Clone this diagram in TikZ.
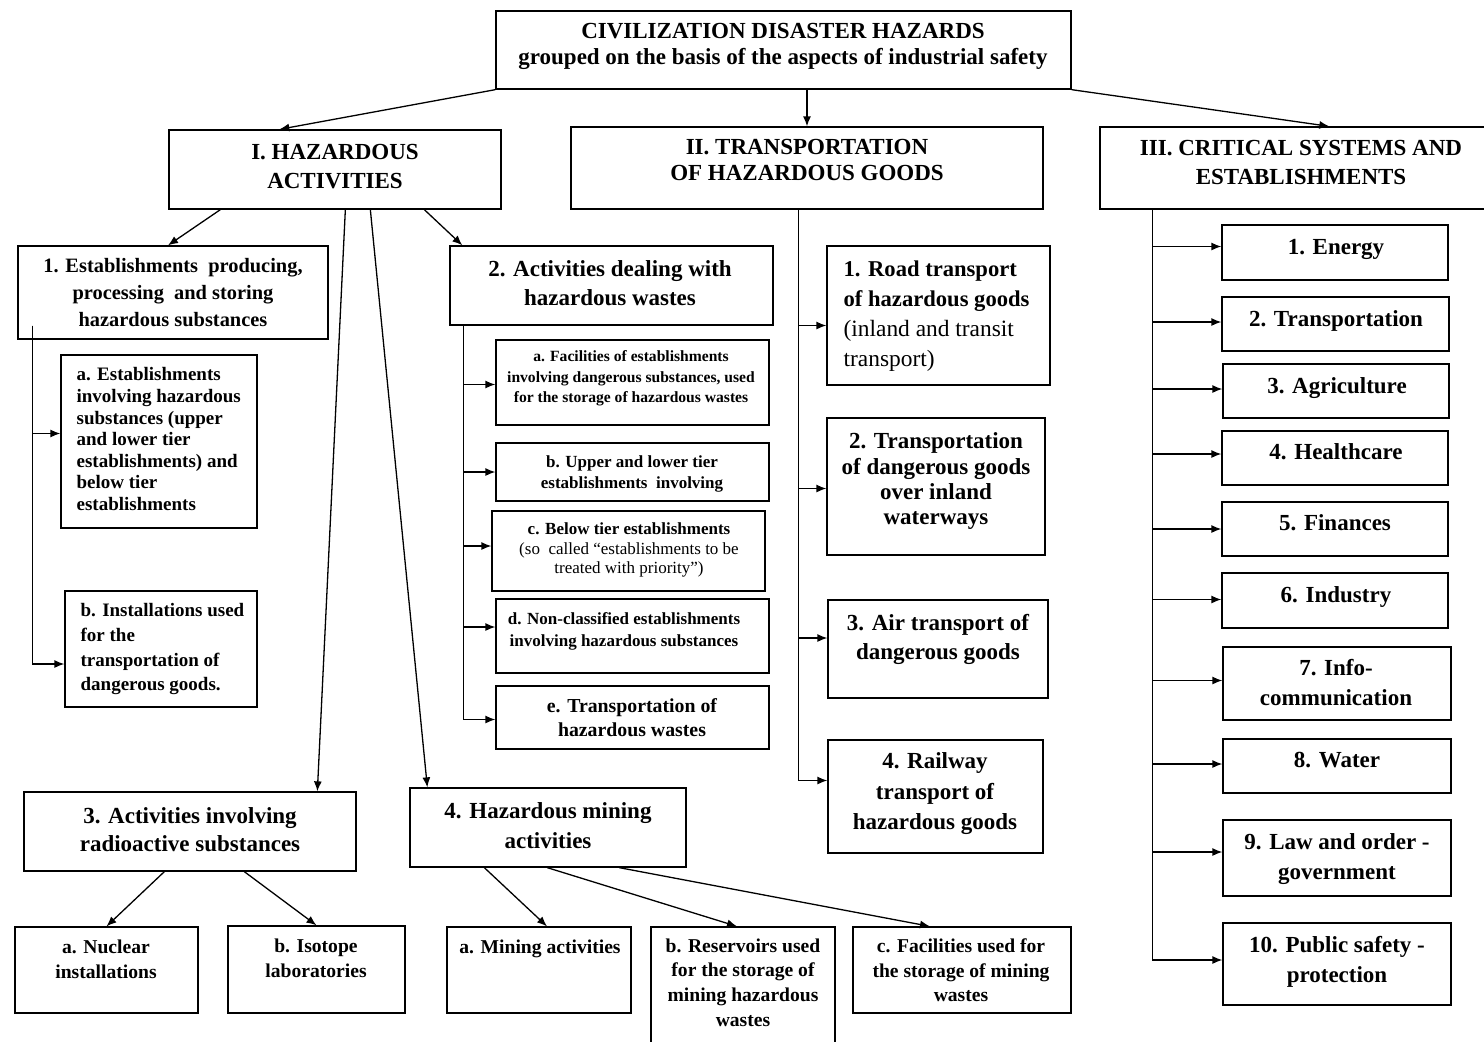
\documentclass[tikz,border=0pt]{standalone}
\usepackage{fontspec}
\setmainfont{Liberation Serif}
\usetikzlibrary{fit,calc,arrows.meta}

\begin{document}
\begin{tikzpicture}[
x=0.5pt, y=-0.5pt,
box/.style={
  draw,
  inner sep=0pt,
  fit={#1}
  },
txt/.style={
  anchor=north,
  align=center,
  inner sep=0pt,
  font=\bfseries\fontsize{11.5}{14.5}\selectfont
  },
txtl/.style={
  txt,
  anchor=north west,
  align=left
  },
fsz/.style 2 args={
  font=\bfseries\fontsize{#1}{#2}\selectfont
  },
line width=0.65pt,
>={Latex[length=5pt,width=4pt]}
]
\useasboundingbox (0,0) rectangle (1484,1041);

% top level
\node[box={(496,11)(1071,89)}] (top) {};
\node[txt, fsz={11.5}{13}] (top-t) at (783,23)
  {CIVILIZATION DISASTER HAZARDS\\grouped on the basis of the aspects of industrial safety};

\node[box={(169,130)(501,209)}] (haz) {};
\node[txt] (haz-t) at (335,144) {I. HAZARDOUS\\ACTIVITIES};

\node[box={(571,127)(1043,209)}] (trans) {};
\node[txt, fsz={11.5}{13}] (trans-t) at (807,139) {II. TRANSPORTATION\\OF HAZARDOUS GOODS};

\node[box={(1100,127)(1490,209)}] (crit) {};
\node[txt] (crit-t) at (1301,140) {III. CRITICAL SYSTEMS AND\\ESTABLISHMENTS};

% I. hazardous activities
\node[box={(18,246)(328,339)}] (h1) {};
\node[txt, fsz={10.2}{13.5}] (h1-t) at (173,258)
  {1. Establishments\ \ producing,\\processing\ \ and storing\\hazardous substances};
\node[box={(61,355)(257,528)}] (h1a) {};
\node[txtl, fsz={9.5}{10.8}] (h1a-t) at (76,367)
  {a. Establishments\\involving hazardous\\substances (upper\\and lower tier\\establishments) and\\below tier\\establishments};
\node[box={(65,591)(257,707)}] (h1b) {};
\node[txtl, fsz={9.5}{12.3}] (h1b-t) at (80,603)
  {b. Installations used\\for the\\transportation of\\dangerous goods.};

\node[box={(450,246)(773,325)}] (h2) {};
\node[txt] (h2-t) at (610,260) {2. Activities dealing with\\hazardous wastes};
\node[box={(496,340)(769,425)}] (h2a) {};
\node[txt, fsz={7.8}{10.2}] (h2a-t) at (631,350)
  {a. Facilities\ of establishments\\involving dangerous substances, used\\for the storage of hazardous wastes};
\node[box={(496,443)(769,501)}] (h2b) {};
\node[txt, fsz={8.5}{10.5}] (h2b-t) at (632,455)
  {b. Upper and lower tier\\establishments\ \ involving};
\node[box={(492,511)(765,591)}] (h2c) {};
\node[txt, fsz={8.5}{9.8}] (h2c-t) at (629,522)
  {c. Below tier establishments\\\mdseries (so\ \ called “establishments to be\\\mdseries treated with priority”)};
\node[box={(496,599)(769,673)}] (h2d) {};
\node[txt, fsz={8.5}{10.8}] (h2d-t) at (624,612)
  {d. Non-classified establishments\\involving hazardous substances};
\node[box={(496,686)(769,749)}] (h2e) {};
\node[txt, fsz={9.9}{12}] (h2e-t) at (632,698) {e. Transportation of\\hazardous wastes};

\node[box={(24,792)(356,871)}] (h3) {};
\node[txt, fsz={11.5}{14}] (h3-t) at (190,807) {3. Activities involving\\radioactive substances};
\node[box={(15,927)(198,1013)}] (h3a) {};
\node[txt, fsz={9.8}{12.5}] (h3a-t) at (106,939) {a. Nuclear\\installations};
\node[box={(228,926)(405,1013)}] (h3b) {};
\node[txt, fsz={9.8}{12.5}] (h3b-t) at (316,938) {b. Isotope\\laboratories};

\node[box={(410,788)(686,867)}] (h4) {};
\node[txt, fsz={11.5}{15}] (h4-t) at (548,802) {4. Hazardous mining\\activities};
\node[box={(447,927)(631,1013)}] (h4a) {};
\node[txt, fsz={9.8}{12.5}] (h4a-t) at (540,939) {a. Mining activities};
\node[box={(651,927)(835,1050)}] (h4b) {};
\node[txt, fsz={9.8}{12.3}] (h4b-t) at (743,938)
  {b. Reservoirs used\\for the storage of\\mining hazardous\\wastes};
\node[box={(853,927)(1071,1013)}] (h4c) {};
\node[txt, fsz={9.8}{12.3}] (h4c-t) at (961,938)
  {c. Facilities used for\\the storage of mining\\wastes};

% II. transportation
\node[box={(827,246)(1050,385)}] (t1) {};
\node[txtl, fsz={11.3}{15}] (t1-t) at (843,260)
  {1. Road transport\\of hazardous goods\\\mdseries\fontsize{11.7}{15}\selectfont(inland and transit\\\mdseries\fontsize{11.7}{15}\selectfont transport)};
\node[box={(827,418)(1045,555)}] (t2) {};
\node[txt, fsz={11.5}{12.7}] (t2-t) at (936,432)
  {2. Transportation\\of dangerous goods\\over inland\\waterways};
\node[box={(828,600)(1048,698)}] (t3) {};
\node[txt] (t3-t) at (938,614) {3. Air transport of\\dangerous goods};
\node[box={(828,740)(1043,853)}] (t4) {};
\node[txt, fsz={11.5}{15.3}] (t4-t) at (935,752) {4. Railway\\transport of\\hazardous goods};

% III. critical systems
\node[box={(1222,225)(1448,280)}] (c1) {};
\node[txt] (c1-t) at (1336,239) {1. Energy};
\node[box={(1222,297)(1449,351)}] (c2) {};
\node[txt] (c2-t) at (1336,310) {2. Transportation};
\node[box={(1223,364)(1449,418)}] (c3) {};
\node[txt] (c3-t) at (1337,377) {3. Agriculture};
\node[box={(1222,431)(1448,485)}] (c4) {};
\node[txt] (c4-t) at (1336,443) {4. Healthcare};
\node[box={(1222,502)(1448,556)}] (c5) {};
\node[txt] (c5-t) at (1335,514) {5. Finances};
\node[box={(1222,573)(1448,628)}] (c6) {};
\node[txt] (c6-t) at (1336,586) {6. Industry};
\node[box={(1223,647)(1451,720)}] (c7) {};
\node[txt, fsz={11.5}{15}] (c7-t) at (1336,659) {7. Info-\\communication};
\node[box={(1223,739)(1451,793)}] (c8) {};
\node[txt] (c8-t) at (1337,752) {8. Water};
\node[box={(1223,820)(1451,896)}] (c9) {};
\node[txt, fsz={11.5}{15}] (c9-t) at (1337,833) {9. Law and order -\\government};
\node[box={(1223,923)(1451,1005)}] (c10) {};
\node[txt, fsz={11.5}{15}] (c10-t) at (1337,936) {10. Public safety -\\protection};

% connectors from the top
\draw[->] (top.south west) -- ($(haz.north west)+(111,0)$);
\draw[->] (top.south -| trans.north) -- (trans.north);
\draw[->] (top.south east) -- ($(crit.north west)+(230,0)$);

% connectors of I
\draw[->] ($(haz.south west)+(52,0)$) -- ($(h1.north)+(-5,0)$);
\draw[->] ($(haz.south west)+(256,0)$) -- ($(h2.north west)+(13,0)$);
\draw[->] ($(haz.south west)+(177,0)$) -- ($(h3.north west)+(294,0)$);
\draw[->] ($(haz.south west)+(202,0)$) -- ($(h4.north west)+(18,0)$);

\coordinate (h1-s) at ($(h1.south west)+(15,-14)$);
\draw[->] (h1-s) |- ($(h1a.west)+(0,-8)$);
\draw[->] (h1-s) |- ($(h1b.west)+(0,15)$);

\coordinate (h2-s) at ($(h2.south west)+(14,0)$);
\foreach \n/\d in {a/2,b/0,c/-5,d/-9,e/2}
  \draw[->] (h2-s) |- ($(h2\n.west)+(0,\d)$);

\draw[->] ($(h3.south west)+(141,0)$) -- (h3a.north);
\draw[->] ($(h3.south west)+(221,0)$) -- (h3b.north);
\draw[->] ($(h4.south west)+(75,0)$) -- ($(h4a.north)+(8,0)$);
\draw[->] ($(h4.south west)+(138,0)$) -- ($(h4b.north)+(-6,0)$);
\draw[->] ($(h4.south west)+(210,0)$) -- ($(h4c.north)+(-32,0)$);

% connectors of II
\coordinate (t-s) at ($(trans.south west)+(228,0)$);
\foreach \n/\d in {1/10,2/2,3/-11,4/-16}
  \draw[->] (t-s) |- ($(t\n.west)+(0,\d)$);

% connectors of III
\coordinate (c-s) at ($(crit.south west)+(53,0)$);
\foreach \n/\d in {1/-6,2/-2,3/-2,4/-4,5/0,6/-1,7/-3,8/-2,9/-6,10/-4}
  \draw[->] (c-s) |- ($(c\n.west)+(0,\d)$);

\end{tikzpicture}
\end{document}
